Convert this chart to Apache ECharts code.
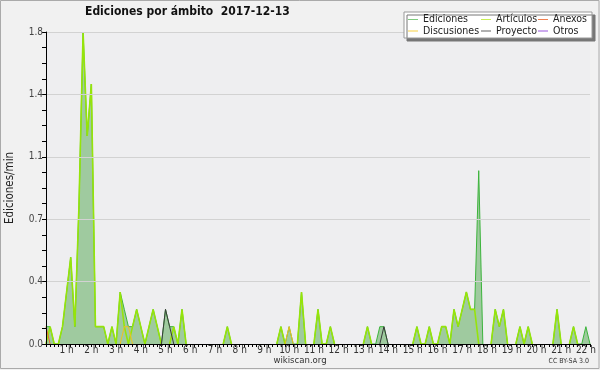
<!DOCTYPE html>
<html>
<head>
<meta charset="utf-8">
<script src="https://cdn.jsdelivr.net/npm/echarts@6/dist/echarts.min.js"></script>
<style>
html,body{margin:0;padding:0;background:#ffffff;}
#c{width:600px;height:370px;}
</style>
</head>
<body>
<div id="c"></div>
<script>
// ---- data (edits per minute, 10-minute bins starting 00:10) ----
var titleText = 'Ediciones por ámbito  2017-12-13';
var seriesNames = ['Ediciones', 'Artículos', 'Anexos', 'Discusiones', 'Proyecto', 'Otros'];
var yTicks = [0, 0.36, 0.72, 1.08, 1.44, 1.8];

var ediciones = [
  0.1,0.1,0,0,0.1,0.3,0.5,0.1,0.8,1.8, 1.2,1.5,0.1,0.1,0.1,0,0.1,0,0.3,0.2,
  0.1,0.1,0.2,0.1,0,0.1,0.2,0.1,0,0.2, 0.1,0.1,0,0.2,0,0,0,0,0,0,
  0,0,0,0,0.1,0,0,0,0,0, 0,0,0,0,0,0,0,0.1,0,0.1,
  0,0,0.3,0,0,0,0.2,0,0,0.1, 0,0,0,0,0,0,0,0,0.1,0,
  0,0.1,0.1,0,0,0,0,0,0,0, 0.1,0,0,0.1,0,0,0.1,0.1,0,0.2,
  0.1,0.2,0.3,0.2,0.2,1.0,0,0,0,0.2, 0.1,0.2,0,0,0,0.1,0,0.1,0,0,
  0,0,0,0,0.2,0,0,0,0.1,0, 0,0.1,0
];
var articulos = [
  0,0.1,0,0,0.1,0.3,0.5,0.1,0.8,1.8, 1.2,1.5,0.1,0.1,0.1,0,0.1,0,0.3,0.1,
  0,0.1,0.2,0.1,0,0.1,0.2,0.1,0,0, 0,0.1,0,0.2,0,0,0,0,0,0,
  0,0,0,0,0.1,0,0,0,0,0, 0,0,0,0,0,0,0,0.1,0,0,
  0,0,0.3,0,0,0,0.2,0,0,0.1, 0,0,0,0,0,0,0,0,0.1,0,
  0,0,0,0,0,0,0,0,0,0, 0.1,0,0,0.1,0,0,0.1,0.1,0,0.2,
  0.1,0.2,0.3,0.2,0.2,0,0,0,0,0.2, 0.1,0.2,0,0,0,0.1,0,0.1,0,0,
  0,0,0,0,0.2,0,0,0,0.1,0, 0,0,0
];
var anexos = [
  0.1,0,0,0,0,0,0,0,0,0, 0,0,0,0,0,0,0,0,0,0,
  0,0,0,0,0,0,0,0,0,0, 0,0,0,0,0,0,0,0,0,0,
  0,0,0,0,0,0,0,0,0,0, 0,0,0,0,0,0,0,0,0,0,
  0,0,0,0,0,0,0,0,0,0, 0,0,0,0,0,0,0,0,0,0,
  0,0,0,0,0,0,0,0,0,0, 0,0,0,0,0,0,0,0,0,0,
  0,0,0,0,0,0,0,0,0,0, 0,0,0,0,0,0,0,0,0,0,
  0,0,0,0,0,0,0,0,0,0, 0,0,0
];
var discusiones = [
  0,0,0,0,0,0,0,0,0,0, 0,0,0,0,0,0,0,0,0,0.1,
  0.1,0,0,0,0,0,0,0,0,0, 0,0,0,0,0,0,0,0,0,0,
  0,0,0,0,0,0,0,0,0,0, 0,0,0,0,0,0,0,0,0,0.1,
  0,0,0,0,0,0,0,0,0,0, 0,0,0,0,0,0,0,0,0,0,
  0,0,0,0,0,0,0,0,0,0, 0,0,0,0,0,0,0,0,0,0,
  0,0,0,0,0,0,0,0,0,0, 0,0,0,0,0,0,0,0,0,0,
  0,0,0,0,0,0,0,0,0,0, 0,0,0
];
var proyecto = [
  0,0,0,0,0,0,0,0,0,0, 0,0,0,0,0,0,0,0,0,0,
  0,0,0,0,0,0,0,0,0,0.2, 0.1,0,0,0,0,0,0,0,0,0,
  0,0,0,0,0,0,0,0,0,0, 0,0,0,0,0,0,0,0,0,0,
  0,0,0,0,0,0,0,0,0,0, 0,0,0,0,0,0,0,0,0,0,
  0,0,0.1,0,0,0,0,0,0,0, 0,0,0,0,0,0,0,0,0,0,
  0,0,0,0,0,0,0,0,0,0, 0,0,0,0,0,0,0,0,0,0,
  0,0,0,0,0,0,0,0,0,0, 0,0,0
];
var otros = [];
for (var k = 0; k < ediciones.length; k++) otros.push(0);

// categories: 10-minute bins starting at 00:10
var categories = [];
for (var j = 0; j < ediciones.length; j++) {
  var mins = 10 * (j + 1);
  var h = Math.floor(mins / 60), m = mins % 60;
  categories.push(h + ':' + (m < 10 ? '0' + m : m));
}

// hide long runs of zeros (they lie on the axis line)
function trim(a) {
  return a.map(function (v, i) {
    var p = i > 0 ? a[i - 1] : 0, n = i < a.length - 1 ? a[i + 1] : 0;
    return (v === 0 && p === 0 && n === 0) ? null : v;
  });
}

var FONT = "'DejaVu Sans Condensed', 'Liberation Sans Narrow', 'DejaVu Sans', sans-serif";
var lineColors = ['#3cb43c', '#96e40a', '#ee6a2a', '#f0c020', '#3a3a3a', '#9b59f0'];
var legendColors = ['#7fcb7f', '#c8ee55', '#f08050', '#f8d040', '#606060', '#9955dd'];

function legendItem(name) {
  var i = seriesNames.indexOf(name);
  return { name: name, itemStyle: { color: legendColors[i] } };
}
function legendCol(left, names) {
  return {
    orient: 'vertical', left: left, top: 14, z: 20,
    icon: 'rect', itemWidth: 10, itemHeight: 1, itemGap: 0.5,
    padding: 0,
    textStyle: { fontFamily: FONT, fontSize: 10.5, lineHeight: 10, color: '#222' },
    data: names.map(legendItem)
  };
}

var datasets = [ediciones, articulos, anexos, discusiones, proyecto, otros];
var series = datasets.map(function (d, i) {
  var s = {
    name: seriesNames[i], type: 'line', data: trim(d), symbol: 'none',
    showSymbol: false, connectNulls: false, animation: false,
    lineStyle: { color: lineColors[i], width: i === 1 ? 1.6 : 1 },
    itemStyle: { color: lineColors[i] },
    z: i === 0 ? 2 : 3 + i
  };
  if (i === 0) s.areaStyle = { color: '#9fca9f', opacity: 1 };
  return s;
});

var chart = echarts.init(document.getElementById('c'), null, { renderer: 'canvas' });
chart.setOption({
  animation: false,
  backgroundColor: '#f1f1f1',
  title: {
    text: titleText, left: 85, top: 6, padding: 0,
    textStyle: { fontFamily: FONT, fontWeight: 'bold', fontSize: 12, color: '#111' }
  },
  legend: [
    legendCol(408, ['Ediciones', 'Discusiones']),
    legendCol(481, ['Artículos', 'Proyecto']),
    legendCol(538, ['Anexos', 'Otros'])
  ],
  grid: { left: 46, right: 10, top: 32, bottom: 26, outerBoundsMode: 'none', containLabel: false,
          show: true, backgroundColor: '#eeeef0', borderWidth: 0 },
  xAxis: {
    type: 'category', data: categories, boundaryGap: false, z: 10,
    axisLine: { lineStyle: { color: '#000', width: 1 } },
    axisTick: { interval: 0, length: 3, lineStyle: { color: '#000' } },
    axisLabel: {
      interval: function (idx, val) { return val.split(':')[1] === '00'; },
      formatter: function (val) { return parseInt(val.split(':')[0], 10) + ' h'; },
      fontFamily: FONT, fontSize: 10, color: '#333', margin: 1
    },
    splitLine: { show: false }
  },
  yAxis: {
    type: 'value', min: yTicks[0], max: yTicks[yTicks.length - 1], interval: yTicks[1], z: 10,
    name: 'Ediciones/min', nameLocation: 'middle', nameGap: 30, nameRotate: 90,
    nameTextStyle: { fontFamily: FONT, fontSize: 11.5, color: '#222' },
    axisLine: { show: true, lineStyle: { color: '#000', width: 1 } },
    axisTick: { show: true, length: 4, lineStyle: { color: '#000' } },
    minorTick: { show: true, splitNumber: 4, length: 4, lineStyle: { color: '#000' } },
    axisLabel: {
      formatter: function (v) { return v.toFixed(1); },
      fontFamily: FONT, fontSize: 10, color: '#444', margin: 3
    },
    splitLine: { show: true, lineStyle: { color: '#d2d2d2', width: 1 } }
  },
  graphic: [
    { type: 'rect', z: -1, silent: true, shape: { x: 0.5, y: 0.5, width: 598.5, height: 368 },
      style: { fill: null, stroke: '#aaaaaa', lineWidth: 1 } },
    { type: 'rect', z: 15, silent: true, shape: { x: 404, y: 12, width: 188, height: 26 },
      style: { fill: '#ffffff', stroke: '#999999', lineWidth: 1, shadowColor: '#777777', shadowOffsetX: 3, shadowOffsetY: 3, shadowBlur: 0 } },
    { type: 'text', z: 15, silent: true, style: { text: 'wikiscan.org', x: 300, y: 361, textAlign: 'center', textVerticalAlign: 'middle', fontFamily: FONT, fontSize: 9.5, fill: '#333' } },
    { type: 'text', z: 15, silent: true, style: { text: 'CC BY-SA 3.0', x: 589, y: 361, textAlign: 'right', textVerticalAlign: 'middle', fontFamily: FONT, fontSize: 7, fill: '#333' } }
  ],
  series: series
});
</script>
</body>
</html>
